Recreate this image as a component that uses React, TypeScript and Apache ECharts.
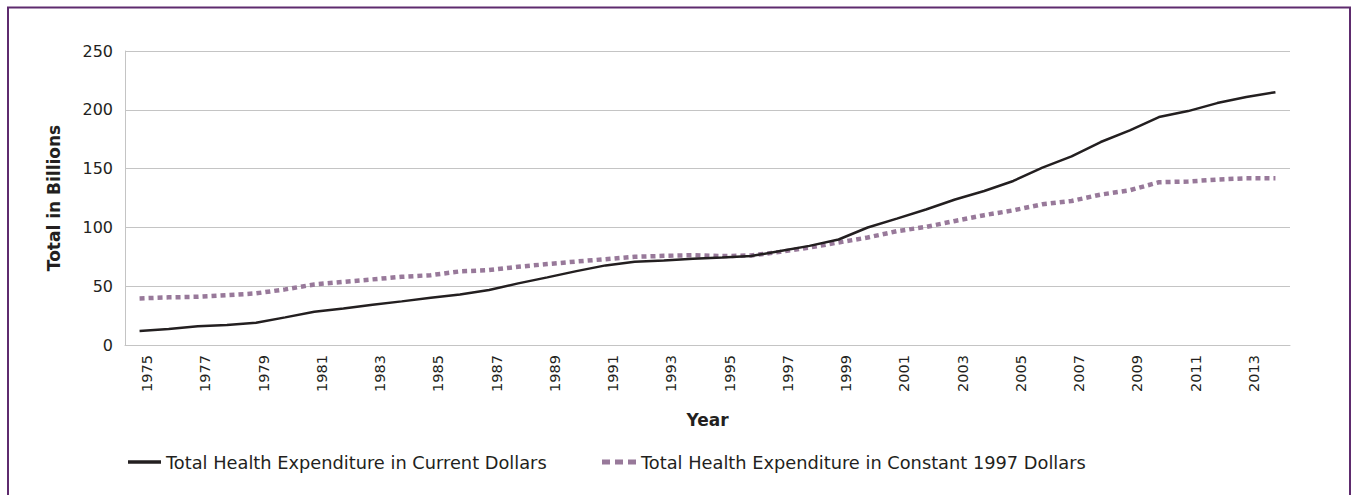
import React, { useEffect, useRef } from "react";
import * as echarts from "echarts";

const years: string[] = [
  "1975", "1976", "1977", "1978", "1979", "1980", "1981", "1982", "1983", "1984",
  "1985", "1986", "1987", "1988", "1989", "1990", "1991", "1992", "1993", "1994",
  "1995", "1996", "1997", "1998", "1999", "2000", "2001", "2002", "2003", "2004",
  "2005", "2006", "2007", "2008", "2009", "2010", "2011", "2012", "2013", "2014",
];

const currentDollars: number[] = [
  12, 13.6, 15.9, 17, 18.9, 23.5, 28.3, 31.1, 34.2, 37.1,
  40.2, 43, 46.7, 52.4, 57.5, 62.8, 67.7, 70.7, 71.9, 73.3,
  74.4, 75.6, 80, 84.3, 89.7, 99.9, 107.5, 115.2, 123.7, 131,
  139.5, 150.8, 160.4, 172.6, 182.5, 193.8, 198.9, 205.7, 210.8, 215,
];

const constant1997Dollars: number[] = [
  39.6, 40.5, 41, 42.4, 43.9, 47.3, 51.5, 53.7, 55.8, 58,
  59.4, 62.6, 63.7, 66.5, 68.8, 71, 73, 75, 75.8, 76.4,
  75.6, 76.1, 79.2, 82.9, 87.2, 91.4, 96.8, 100.4, 105.5, 110.4,
  114.5, 119.7, 122.5, 127.9, 131.6, 138.4, 139, 140.7, 141.8, 141.8,
];

const seriesNames: string[] = [
  "Total Health Expenditure in Current Dollars",
  "Total Health Expenditure in Constant 1997 Dollars",
];

const FONT = "'DejaVu Sans', 'Open Sans', sans-serif";
const TEXT = "#231f20";
const BLACK = "#231f20";
const MAUVE = "#98799a";

export default function App() {
  const ref = useRef<HTMLDivElement>(null);

  useEffect(() => {
    document.body.style.margin = "0";
    document.body.style.overflow = "hidden";
    const chart = echarts.init(ref.current!, undefined, { renderer: "svg" });
    const legendText = { fontFamily: FONT, fontSize: 17.8, color: TEXT };
    chart.setOption({
      animation: false,
      backgroundColor: "#ffffff",
      textStyle: { fontFamily: FONT },
      graphic: [
        {
          type: "rect",
          shape: { x: 8, y: 7.5, width: 1342, height: 600 },
          style: { fill: "none", stroke: "#5e2b6e", lineWidth: 2 },
          silent: true,
        },
      ],
      grid: { left: 125, right: 65, top: 51, bottom: 150 },
      xAxis: {
        type: "category",
        data: years,
        boundaryGap: true,
        name: "Year",
        nameLocation: "middle",
        nameGap: 66,
        nameTextStyle: { fontFamily: FONT, fontWeight: "bold", fontSize: 17, color: TEXT },
        axisLine: { show: true, lineStyle: { color: "#c4c4c4", width: 1 } },
        axisTick: { show: false },
        axisLabel: {
          interval: 1,
          rotate: 90,
          margin: 10,
          verticalAlign: "top",
          fontFamily: FONT,
          fontSize: 14.5,
          color: TEXT,
        },
        splitLine: { show: false },
      },
      yAxis: {
        type: "value",
        min: 0,
        max: 250,
        interval: 50,
        name: "Total in Billions",
        nameLocation: "middle",
        nameGap: 63,
        nameTextStyle: { fontFamily: FONT, fontWeight: "bold", fontSize: 17, color: TEXT },
        axisLine: { show: true, lineStyle: { color: "#c4c4c4", width: 1 } },
        axisTick: { show: false },
        axisLabel: { margin: 12, fontFamily: FONT, fontSize: 16, color: TEXT },
        splitLine: { show: true, lineStyle: { color: "#c4c4c4", width: 1 } },
      },
      legend: [
        {
          left: 123,
          top: 448,
          itemWidth: 33,
          itemHeight: 3.5,
          textStyle: legendText,
          data: [{ name: seriesNames[0], icon: "rect", itemStyle: { color: BLACK } }],
        },
        {
          left: 597,
          top: 448,
          itemWidth: 34,
          itemHeight: 5,
          textStyle: legendText,
          data: [
            {
              name: seriesNames[1],
              icon: "path://M0,0h8v5h-8z M13,0h8v5h-8z M26,0h8v5h-8z",
              itemStyle: { color: MAUVE },
            },
          ],
        },
      ],
      series: [
        {
          name: seriesNames[0],
          type: "line",
          data: currentDollars,
          showSymbol: false,
          symbol: "none",
          lineStyle: { color: BLACK, width: 2.5 },
          itemStyle: { color: BLACK },
          z: 3,
        },
        {
          name: seriesNames[1],
          type: "line",
          data: constant1997Dollars,
          showSymbol: false,
          symbol: "none",
          lineStyle: { color: MAUVE, width: 4.5, type: [5, 4], cap: "butt" },
          itemStyle: { color: MAUVE },
          z: 2,
        },
      ],
    });
    return () => chart.dispose();
  }, []);

  return (
    <div style={{ width: 1355, height: 495, overflow: "hidden", position: "relative" }}>
      <div ref={ref} style={{ width: 1355, height: 495 }} />
    </div>
  );
}
